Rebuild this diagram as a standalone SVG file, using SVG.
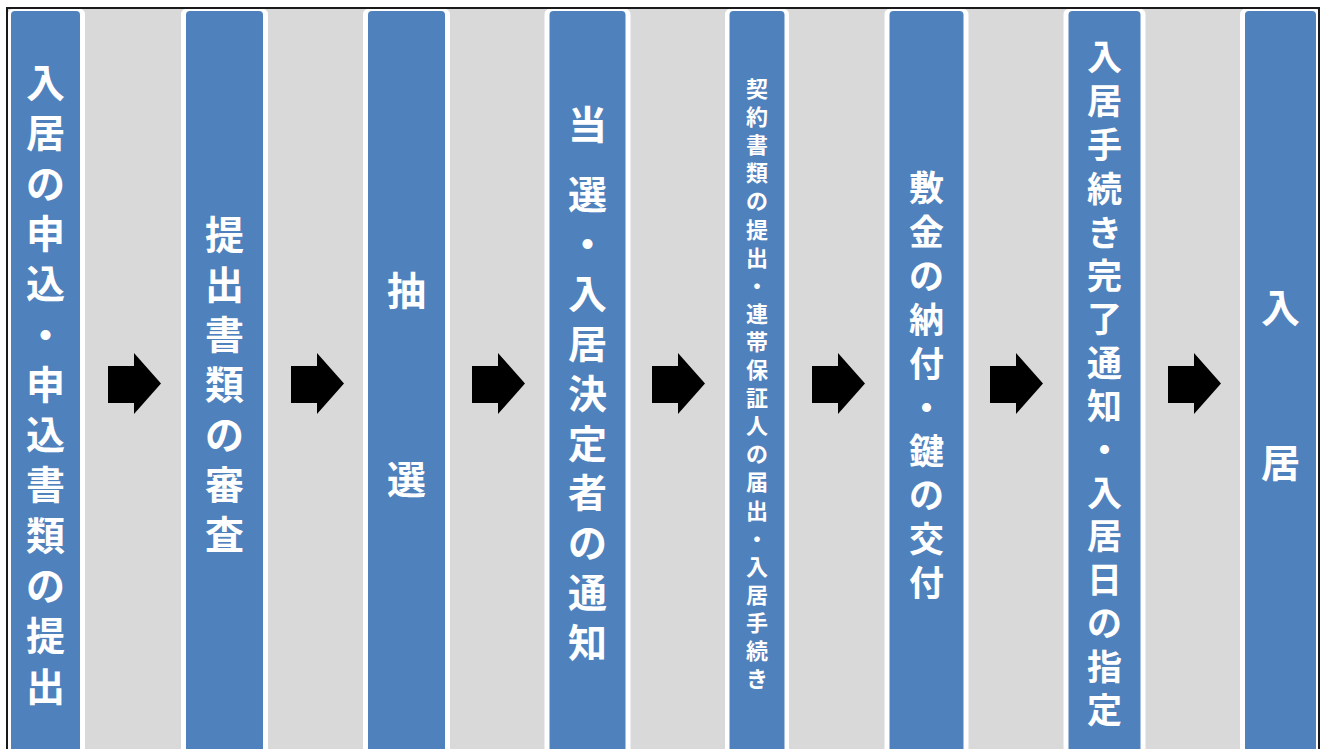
<svg xmlns="http://www.w3.org/2000/svg" width="1320" height="749" viewBox="0 0 1320 749">
<style>
.bg{fill:#d9d9d9}
.halo{fill:#ffffff}
.col{fill:#4f81bd}
.lbl{fill:#ffffff;font-family:"Noto Sans CJK JP","Noto Sans CJK SC",sans-serif;font-weight:700;text-anchor:middle;dominant-baseline:central}
.f40{font-size:39px}
.f36{font-size:35px}
.f23{font-size:22px}
.arr{fill:#000000}
.frame{stroke:#1a1a1a;stroke-width:2;fill:none}
</style>
<rect x="0" y="0" width="1320" height="749" fill="#ffffff"/>
<rect class="bg" x="7" y="8" width="1312" height="760"/>

<g id="step1">
<rect class="halo" x="8" y="9" width="77" height="760" rx="5"/>
<rect class="col" x="11" y="11" width="69" height="760" rx="4"/>
<text class="lbl f40"><tspan x="45.5" y="80">入</tspan><tspan x="45.5" y="130.3">居</tspan><tspan x="45.5" y="180.6">の</tspan><tspan x="45.5" y="230.9">申</tspan><tspan x="45.5" y="281.2">込</tspan><tspan x="45.5" y="331.5">・</tspan><tspan x="45.5" y="381.8">申</tspan><tspan x="45.5" y="432.1">込</tspan><tspan x="45.5" y="482.4">書</tspan><tspan x="45.5" y="532.7">類</tspan><tspan x="45.5" y="583">の</tspan><tspan x="45.5" y="633.3">提</tspan><tspan x="45.5" y="683.6">出</tspan></text>
</g>

<g id="step2">
<rect class="halo" x="181" y="9" width="87" height="760" rx="5"/>
<rect class="col" x="186" y="11" width="77" height="760" rx="4"/>
<text class="lbl f40"><tspan x="224.5" y="232">提</tspan><tspan x="224.5" y="282">出</tspan><tspan x="224.5" y="332">書</tspan><tspan x="224.5" y="382">類</tspan><tspan x="224.5" y="432">の</tspan><tspan x="224.5" y="482">審</tspan><tspan x="224.5" y="532">査</tspan></text>
</g>

<g id="step3">
<rect class="halo" x="363" y="9" width="87" height="760" rx="5"/>
<rect class="col" x="368" y="11" width="77" height="760" rx="4"/>
<text class="lbl f40"><tspan x="406.5" y="288">抽</tspan><tspan x="406.5" y="477">選</tspan></text>
</g>

<g id="step4">
<rect class="halo" x="544.5" y="9" width="86" height="760" rx="5"/>
<rect class="col" x="549.5" y="11" width="76" height="760" rx="4"/>
<text class="lbl f40"><tspan x="587.5" y="122">当</tspan><tspan x="587.5" y="191.5">選</tspan><tspan x="587.5" y="241.3">・</tspan><tspan x="587.5" y="291.1">入</tspan><tspan x="587.5" y="340.9">居</tspan><tspan x="587.5" y="390.7">決</tspan><tspan x="587.5" y="440.5">定</tspan><tspan x="587.5" y="490.3">者</tspan><tspan x="587.5" y="540.1">の</tspan><tspan x="587.5" y="589.9">通</tspan><tspan x="587.5" y="639.7">知</tspan></text>
</g>

<g id="step5">
<rect class="halo" x="725" y="9" width="64" height="760" rx="5"/>
<rect class="col" x="729.5" y="11" width="55" height="760" rx="4"/>
<text class="lbl f23"><tspan x="757" y="87">契</tspan><tspan x="757" y="115.1">約</tspan><tspan x="757" y="143.2">書</tspan><tspan x="757" y="171.3">類</tspan><tspan x="757" y="199.4">の</tspan><tspan x="757" y="227.5">提</tspan><tspan x="757" y="255.6">出</tspan><tspan x="757" y="283.7">・</tspan><tspan x="757" y="311.8">連</tspan><tspan x="757" y="339.9">帯</tspan><tspan x="757" y="368">保</tspan><tspan x="757" y="396.1">証</tspan><tspan x="757" y="424.2">人</tspan><tspan x="757" y="452.3">の</tspan><tspan x="757" y="480.4">届</tspan><tspan x="757" y="508.5">出</tspan><tspan x="757" y="536.6">・</tspan><tspan x="757" y="564.7">入</tspan><tspan x="757" y="592.8">居</tspan><tspan x="757" y="620.9">手</tspan><tspan x="757" y="649">続</tspan><tspan x="757" y="677.1">き</tspan></text>
</g>

<g id="step6">
<rect class="halo" x="884.5" y="9" width="84" height="760" rx="5"/>
<rect class="col" x="889.5" y="11" width="74" height="760" rx="4"/>
<text class="lbl f36"><tspan x="926.5" y="185">敷</tspan><tspan x="926.5" y="228.9">金</tspan><tspan x="926.5" y="272.8">の</tspan><tspan x="926.5" y="316.7">納</tspan><tspan x="926.5" y="360.6">付</tspan><tspan x="926.5" y="404.5">・</tspan><tspan x="926.5" y="448.4">鍵</tspan><tspan x="926.5" y="492.3">の</tspan><tspan x="926.5" y="536.2">交</tspan><tspan x="926.5" y="580.1">付</tspan></text>
</g>

<g id="step7">
<rect class="halo" x="1063.5" y="9" width="82" height="760" rx="5"/>
<rect class="col" x="1068.5" y="11" width="72" height="760" rx="4"/>
<text class="lbl f36"><tspan x="1104.5" y="54">入</tspan><tspan x="1104.5" y="98">居</tspan><tspan x="1104.5" y="142">手</tspan><tspan x="1104.5" y="186">続</tspan><tspan x="1104.5" y="230">き</tspan><tspan x="1104.5" y="273">完</tspan><tspan x="1104.5" y="316.4">了</tspan><tspan x="1104.5" y="359.8">通</tspan><tspan x="1104.5" y="403.2">知</tspan><tspan x="1104.5" y="446.6">・</tspan><tspan x="1104.5" y="490">入</tspan><tspan x="1104.5" y="533.4">居</tspan><tspan x="1104.5" y="576.8">日</tspan><tspan x="1104.5" y="620.2">の</tspan><tspan x="1104.5" y="663.6">指</tspan><tspan x="1104.5" y="707">定</tspan></text>
</g>

<g id="step8">
<rect class="halo" x="1240" y="9" width="80" height="760" rx="5"/>
<rect class="col" x="1245" y="11" width="71" height="760" rx="4"/>
<text class="lbl f40"><tspan x="1280.5" y="305">入</tspan><tspan x="1280.5" y="460">居</tspan></text>
</g>

<g id="connectors">
<polygon class="arr" points="108,366 134,366 134,353 161,383.5 134,414 134,403 108,403"/>
<polygon class="arr" points="291,366 317,366 317,353 344,383.5 317,414 317,403 291,403"/>
<polygon class="arr" points="472,366 498,366 498,353 525,383.5 498,414 498,403 472,403"/>
<polygon class="arr" points="652,366 678,366 678,353 705,383.5 678,414 678,403 652,403"/>
<polygon class="arr" points="812,366 838,366 838,353 865,383.5 838,414 838,403 812,403"/>
<polygon class="arr" points="990,366 1016,366 1016,353 1043,383.5 1016,414 1016,403 990,403"/>
<polygon class="arr" points="1168,366 1194,366 1194,353 1221,383.5 1194,414 1194,403 1168,403"/>
</g>

<g id="frame">
<line class="frame" x1="6" y1="8" x2="1320" y2="8"/>
<line class="frame" x1="7" y1="7" x2="7" y2="749"/>
<line class="frame" x1="1319" y1="7" x2="1319" y2="749"/>
</g>
</svg>
